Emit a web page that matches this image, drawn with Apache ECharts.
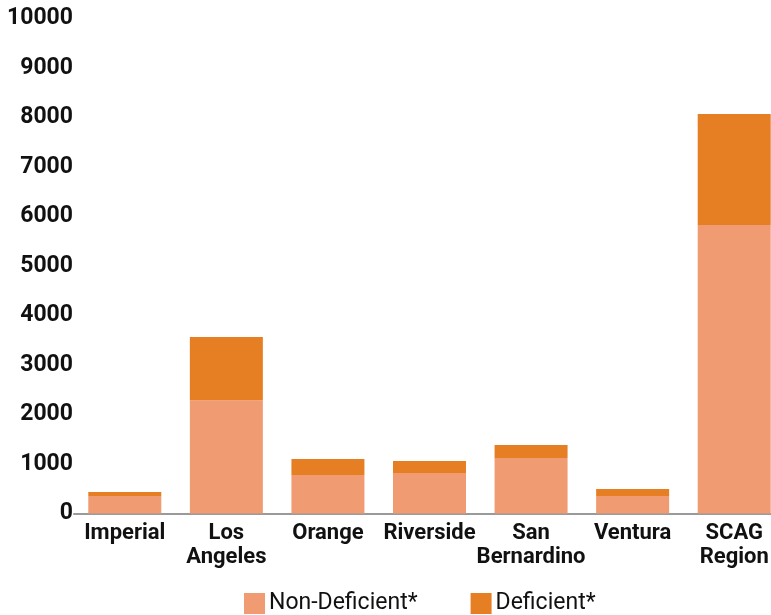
<!DOCTYPE html>
<html>
<head>
<meta charset="utf-8">
<script src="https://cdn.jsdelivr.net/npm/echarts@6/dist/echarts.min.js"></script>
<style>
  html, body { margin: 0; padding: 0; background: #ffffff; }
  #chart { width: 771px; height: 615px; }
</style>
</head>
<body>
<div id="chart"></div>
<script>
// Counties in the SCAG region plus the regional total
const categories = ['Imperial', 'Los\nAngeles', 'Orange', 'Riverside', 'San\nBernardino', 'Ventura', 'SCAG\nRegion'];
const nonDeficient = [355, 2290, 780, 820, 1120, 355, 5830];
const deficient = [80, 1275, 320, 240, 265, 140, 2240];
const yTicks = [0, 1000, 2000, 3000, 4000, 5000, 6000, 7000, 8000, 9000, 10000];

const chart = echarts.init(document.getElementById('chart'));
const fontFamily = 'Roboto, "DejaVu Sans", sans-serif';

chart.setOption({
  animation: false,
  // the plot runs past the right edge, so the last bar is cut off
  grid: { left: 74, width: 711, top: 18.5, height: 495, outerBoundsMode: 'none', containLabel: false },
  legend: {
    top: 587,
    left: 239,
    itemWidth: 21,
    itemHeight: 21,
    itemGap: 53,
    icon: 'rect',
    textStyle: { fontFamily, fontSize: 23, color: '#111', padding: [0, 0, 0, -1] },
    data: ['Non-Deficient*', 'Deficient*']
  },
  xAxis: {
    type: 'category',
    data: categories,
    axisLine: { show: true, lineStyle: { color: '#9a9a9a', width: 2 } },
    axisTick: { show: false },
    axisLabel: {
      fontFamily, fontSize: 22, fontWeight: 'bold', color: '#111',
      lineHeight: 24, margin: 8, interval: 0
    }
  },
  yAxis: {
    type: 'value',
    min: yTicks[0],
    max: yTicks[yTicks.length - 1],
    interval: 1000,
    splitLine: { show: false },
    axisLine: { show: false },
    axisTick: { show: false },
    axisLabel: {
      fontFamily, fontSize: 23, fontWeight: 'bold', color: '#111', margin: 1,
      formatter: (v) => String(v)
    }
  },
  series: [
    {
      name: 'Non-Deficient*',
      type: 'bar',
      stack: 'total',
      barWidth: 73,
      itemStyle: { color: '#F19B73' },
      data: nonDeficient
    },
    {
      name: 'Deficient*',
      type: 'bar',
      stack: 'total',
      barWidth: 73,
      itemStyle: { color: '#E67E24' },
      data: deficient
    }
  ]
});
</script>
</body>
</html>
